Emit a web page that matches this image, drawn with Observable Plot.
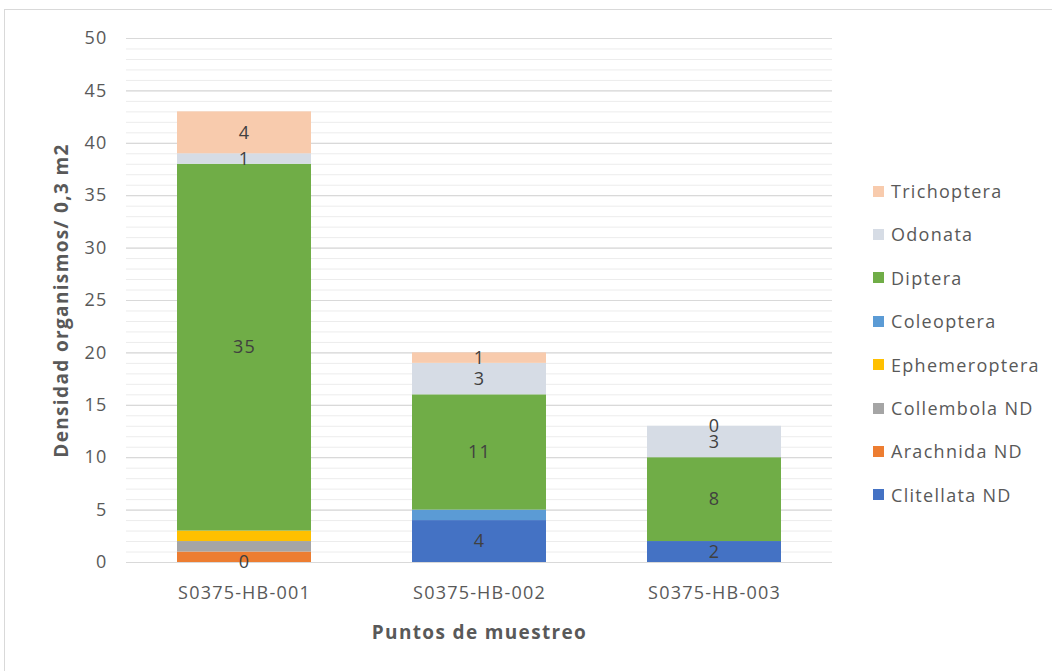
<!DOCTYPE html>
<html>
<head>
<meta charset="utf-8">
<script src="https://cdn.jsdelivr.net/npm/d3@7"></script>
<script src="https://cdn.jsdelivr.net/npm/@observablehq/plot@0.6"></script>
<style>
  html, body { margin: 0; padding: 0; background: #ffffff; }
  #frame {
    position: relative;
    width: 1052px;
    height: 671px;
    overflow: hidden;
    font-family: "Open Sans", sans-serif;
  }
  #border {
    position: absolute;
    left: 4px;
    top: 9px;
    width: 1100px;
    height: 700px;
    border: 1px solid #d9d9d9;
    box-sizing: border-box;
  }
  #chart { position: absolute; left: 0; top: 0; }
  #legend {
    position: absolute;
    left: 873px;
    top: 0;
    color: #595959;
    font-size: 18px;
    letter-spacing: 1.3px;
  }
  .item {
    position: absolute;
    left: 0;
    white-space: nowrap;
    display: flex;
    align-items: center;
    height: 24px;
  }
  .swatch {
    width: 11px;
    height: 11px;
    margin-right: 7px;
  }
</style>
</head>
<body>
<div id="frame">
  <div id="border"></div>
  <div id="chart"></div>
  <div id="legend"></div>
</div>
<script>
// Sampling points (x categories)
const puntos = ["S0375-HB-001", "S0375-HB-002", "S0375-HB-003"];

// Taxonomic groups, bottom of the stack first
const grupos = [
  "Clitellata ND", "Arachnida ND", "Collembola ND", "Ephemeroptera",
  "Coleoptera", "Diptera", "Odonata", "Trichoptera"
];

// Density (organisms / 0.3 m2) per group, one value per sampling point
const clitellataND  = [0, 4, 2];
const arachnidaND   = [1, 0, 0];
const collembolaND  = [1, 0, 0];
const ephemeroptera = [1, 0, 0];
const coleoptera    = [0, 1, 0];
const diptera       = [35, 11, 8];
const odonata       = [1, 3, 3];
const trichoptera   = [4, 1, 0];

const colores = [
  "#4472C4", "#ED7D31", "#A5A5A5", "#FFC000",
  "#5B9BD5", "#70AD47", "#D6DCE5", "#F8CBAD"
];

// Groups whose segments carry a value label
const gruposEtiquetados = ["Clitellata ND", "Diptera", "Odonata", "Trichoptera"];

const yTicks = [0, 5, 10, 15, 20, 25, 30, 35, 40, 45, 50];
const yMinor = d3.range(0, 51);

const series = [clitellataND, arachnidaND, collembolaND, ephemeroptera,
                coleoptera, diptera, odonata, trichoptera];

const filas = [];
grupos.forEach((g, i) => {
  puntos.forEach((p, j) => {
    filas.push({grupo: g, punto: p, valor: series[i][j]});
  });
});

const stackOpts = {x: "punto", y: "valor", z: "grupo", order: grupos};

const chart = Plot.plot({
  width: 1052,
  height: 671,
  marginLeft: 126,
  marginRight: 220,
  marginTop: 38,
  marginBottom: 109,
  style: {
    fontFamily: "Open Sans, sans-serif",
    fontSize: "18px",
    color: "#595959",
    background: "transparent",
    letterSpacing: "1.2px"
  },
  x: {domain: puntos, paddingInner: 0.43, paddingOuter: 0.215},
  y: {domain: [0, 50]},
  color: {domain: grupos, range: colores},
  marks: [
    Plot.ruleY(yMinor, {stroke: "#ececec", strokeWidth: 1}),
    Plot.ruleY(yTicks, {stroke: "#d9d9d9", strokeWidth: 1.2}),
    Plot.barY(filas, Plot.stackY({...stackOpts, fill: "grupo"})),
    Plot.text(filas, Plot.stackY({
      ...stackOpts,
      text: d => gruposEtiquetados.includes(d.grupo) ? String(d.valor) : null,
      fill: "#404040",
      fontSize: 18,
      letterSpacing: 0
    })),
    Plot.axisY({
      ticks: yTicks,
      tickSize: 0,
      tickPadding: 19,
      label: "Densidad organismos/ 0,3 m2",
      labelAnchor: "center",
      labelArrow: "none",
      labelOffset: 72
    }),
    Plot.axisX({
      tickSize: 0,
      tickPadding: 24,
      label: "Puntos de muestreo",
      labelAnchor: "center",
      labelArrow: "none",
      labelOffset: 76
    })
  ]
});

// Axis titles are bold
chart.querySelectorAll('g[aria-label="y-axis label"] text, g[aria-label="x-axis label"] text')
  .forEach(t => {
    t.setAttribute("font-weight", "bold");
    t.setAttribute("font-size", "19");
    t.style.letterSpacing = "1.35px";
  });

document.getElementById("chart").appendChild(chart);

// Legend, top item is the last stacked group
const legend = document.getElementById("legend");
const ordenLeyenda = grupos.slice().reverse();
ordenLeyenda.forEach((g, i) => {
  const item = document.createElement("div");
  item.className = "item";
  item.style.top = (191 + 43.4 * i - 12) + "px";
  const sw = document.createElement("span");
  sw.className = "swatch";
  sw.style.background = colores[grupos.indexOf(g)];
  const tx = document.createElement("span");
  tx.textContent = g;
  item.appendChild(sw);
  item.appendChild(tx);
  legend.appendChild(item);
});
</script>
</body>
</html>
